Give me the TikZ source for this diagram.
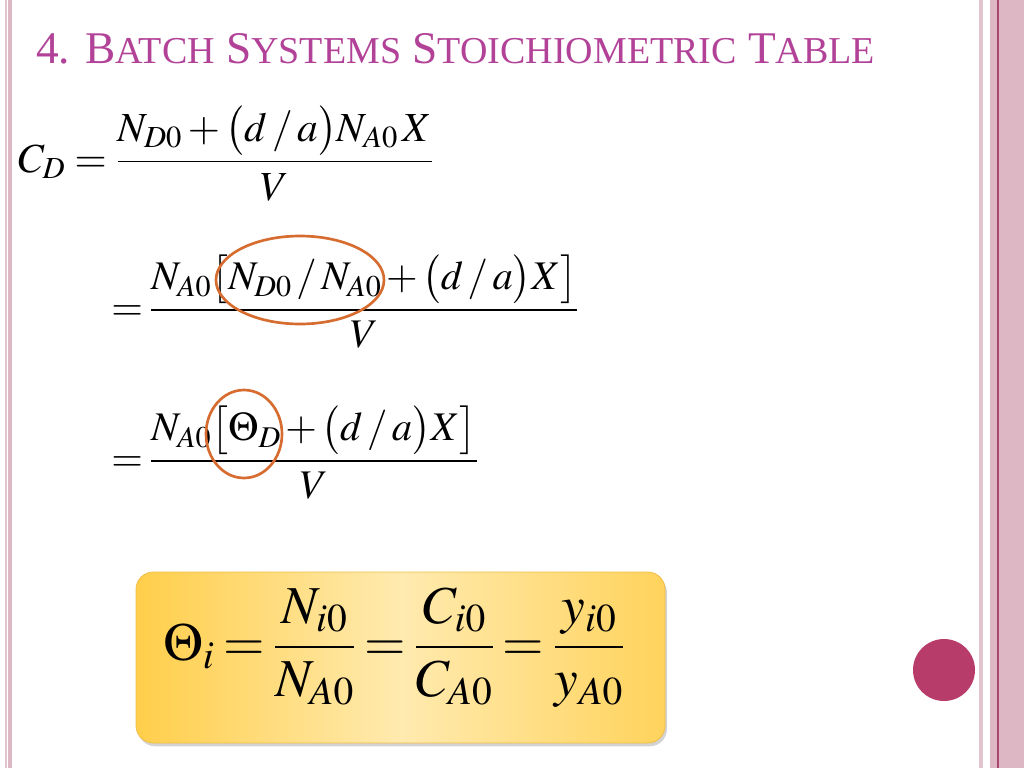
\documentclass[tikz,border=0pt]{standalone}
\usepackage{amsmath}
\usepackage{mathptmx}
\usepackage[no-math]{fontspec}
\setmainfont{Liberation Serif}
\usetikzlibrary{shadows}
\definecolor{titlepink}{RGB}{178,66,152}
\definecolor{borderpink}{RGB}{221,184,196}
\definecolor{borderlight}{RGB}{226,196,206}
\definecolor{borderdark}{RGB}{168,70,108}
\definecolor{ringorange}{RGB}{214,108,48}
\definecolor{dotpink}{RGB}{184,60,106}
\definecolor{boxgold}{RGB}{255,206,74}
\definecolor{boxlight}{RGB}{255,234,175}
\definecolor{boxedge}{RGB}{240,190,70}
\newcommand{\scword}[2]{#1{\fontsize{28.5}{30}\selectfont #2}}
\newcommand{\tightmath}{\thickmuskip=3mu plus 1mu\medmuskip=2mu plus 1mu}
\newcommand{\slsep}{\mkern2mu/\mkern2mu}

\begin{document}
\begin{tikzpicture}[x=0.75pt, y=-0.75pt,
title/.style={anchor=base west, inner sep=0pt, text=titlepink, font=\fontsize{34}{40}\selectfont},
eqn/.style={anchor=base west, inner sep=0pt, font=\fontsize{31}{36}\selectfont},
tighteqn/.style={eqn, font=\fontsize{30.5}{36}\selectfont\tightmath},
bigeqn/.style={anchor=base west, inner sep=0pt, font=\fontsize{40}{50}\selectfont\tightmath},
ring/.style={draw=ringorange, line width=2pt},
ratiobox/.style={rectangle, draw=boxedge, line width=.6pt, rounded corners=13pt,
  minimum width=396.75pt, minimum height=128.25pt, shading=axis,
  left color=boxgold, right color=boxgold!90, middle color=boxlight,
  drop shadow={shadow xshift=1.5pt, shadow yshift=-2.5pt, opacity=.35}}
]
\useasboundingbox (0,0) rectangle (1024,768);

%% slide frame
\fill[borderlight] (5,0) rectangle (7,768);
\fill[borderpink] (8,0) rectangle (12,768);
\fill[borderlight] (979,0) rectangle (983,768);
\fill[borderpink] (990,0) rectangle (1024,768);
\draw[borderdark, line width=.8pt] (998,0) -- (998,768);

\node[title] (title) at (36,63) {4. \scword{B}{ATCH} \scword{S}{YSTEMS} \scword{S}{TOICHIOMETRIC} \scword{T}{ABLE}};

\node[eqn] (eqone) at (18,172)
  {$C_D = \dfrac{N_{D0} + \bigl(d\,/\,a\bigr) N_{A0}\,X}{V}$};
\node[tighteqn] (eqtwo) at (111,320)
  {$= \dfrac{N_{A0}\bigl[N_{D0}\slsep N_{A0} + \bigl(d\slsep a\bigr)X\bigr]}{V}$};
\node[tighteqn] (eqthree) at (111,471)
  {$= \dfrac{N_{A0}\bigl[\Theta_D + \bigl(d\slsep a\bigr)X\bigr]}{V}$};

\draw[ring] (300,280) ellipse [x radius=84, y radius=44];
\draw[ring] (244,434) ellipse [x radius=38, y radius=44];

\node[ratiobox] (ratio) at (400.5,657.5) {};
\node[bigeqn] (eqfour) at (163,660)
  {$\Theta_i = \dfrac{N_{i0}}{N_{A0}} = \dfrac{C_{i0}}{C_{A0}} = \dfrac{y_{i0}}{y_{A0}}$};

\fill[dotpink] (944,670) circle [radius=31];
\end{tikzpicture}
\end{document}
